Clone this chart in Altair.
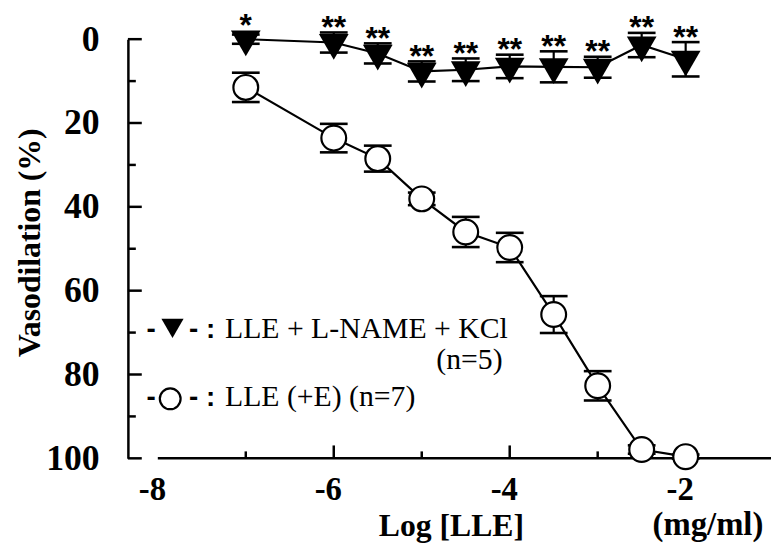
import altair as alt
import pandas as pd
import numpy as np

# ---------------- data ----------------
log_conc = [-7, -6, -5.5, -5, -4.5, -4, -3.5, -3, -2.5, -2]
lname_mean = [0.0, 0.8, 3.4, 7.7, 7.3, 6.5, 6.6, 6.7, 1.4, 4.8]
lname_sem = [1.1, 2.4, 2.4, 2.4, 2.7, 2.8, 3.7, 2.5, 2.9, 4.1]
lle_mean = [11.5, 23.6, 28.5, 38.1, 46.0, 49.7, 65.7, 82.7, 97.9, 99.6]
lle_sem = [3.5, 3.4, 3.1, 1.5, 3.6, 3.5, 4.4, 3.5, 1.0, 0.5]
stars = ["*", "**", "**", "**", "**", "**", "**", "**", "**", "**"]

x_labels = [-8, -6, -4, -2]
x_minor = [-7, -5, -3]
x_major_ticks = [-6, -4, -2]
y_major = [0, 20, 40, 60, 80, 100]
y_minor = [10, 30, 50, 70, 90]

legend_lname = "LLE + L-NAME + KCl"
legend_lname_n = "(n=5)"
legend_lle = "LLE (+E) (n=7)"
unit_label = "(mg/ml)"

# ---------------- layout ----------------
X_MIN, X_MAX = -8.34, -1.03
W, H = 649, 423
SERIF = "Liberation Serif"
SANS = "Liberation Sans"
TRI = "M -1 -0.577 L 1 -0.577 L 0 1.155 Z"   # down triangle, centroid at origin
TRI_TOP = 2.06  # triangle top above its centre, in y units

df_lname = pd.DataFrame({"x": log_conc, "mean": lname_mean, "sem": lname_sem, "star": stars})
df_lname["lo"] = df_lname["mean"] - df_lname["sem"]
df_lname["hi"] = df_lname["mean"] + df_lname["sem"]
df_lname["star_y"] = np.minimum(df_lname["lo"], df_lname["mean"] - TRI_TOP)

df_lle = pd.DataFrame({"x": log_conc, "mean": lle_mean, "sem": lle_sem})
df_lle["lo"] = df_lle["mean"] - df_lle["sem"]
df_lle["hi"] = df_lle["mean"] + df_lle["sem"]

xs = alt.Scale(domain=[X_MIN, X_MAX], nice=False, zero=False)
ys = alt.Scale(domain=[0, 100], nice=False, zero=False, reverse=True)

xaxis = alt.Axis(values=x_labels, labelExpr="'' + datum.value", ticks=False, domain=False,
                 grid=False, labelFont=SERIF, labelFontSize=33, labelFontWeight="bold",
                 labelColor="black", labelPadding=16, labelOffset=-6, labelFlush=False,
                 labelOverlap=False,
                 title="Log [LLE]", titleFont=SERIF, titleFontSize=32, titleFontWeight="bold",
                 titleColor="black", titleX=326, titleY=78, titleAlign="center",
                 titleBaseline="alphabetic")
yaxis = alt.Axis(values=y_major, format="d", ticks=False, domain=True, domainColor="black",
                 domainWidth=2.5, grid=False, labelFont=SERIF, labelFontSize=36,
                 labelFontWeight="bold", labelColor="black", labelPadding=29,
                 labelOverlap=False, labelFlush=False,
                 title="Vasodilation (%)", titleFont=SERIF, titleFontSize=32,
                 titleFontWeight="bold", titleColor="black", titleX=-89, titleY=205,
                 titleAlign="center", titleBaseline="alphabetic", titleAngle=270)


def X(f="x:Q"):
    return alt.X(f, scale=xs, axis=xaxis, title="Log [LLE]")


def Y(f):
    return alt.Y(f, scale=ys, axis=yaxis, title="Vasodilation (%)")


def XD(v):
    return alt.X(datum=v, scale=xs, axis=xaxis, title="Log [LLE]")


def YD(v):
    return alt.Y(datum=v, scale=ys, axis=yaxis, title="Vasodilation (%)")


# lines
line_lle = alt.Chart(df_lle).mark_line(color="black", strokeWidth=2.2).encode(
    x=X(), y=Y("mean:Q"))
line_lname = alt.Chart(df_lname).mark_line(color="black", strokeWidth=2.2).encode(
    x=X(), y=Y("mean:Q"))

# axes decorations
df_xline = pd.DataFrame({"x": [x_labels[0]], "x2": [X_MAX]})
x_line = alt.Chart(df_xline).mark_rule(color="black", strokeWidth=2.5).encode(
    x=X(), x2="x2:Q", y=YD(100))
x_ticks_major = alt.Chart(pd.DataFrame({"x": x_major_ticks})).mark_tick(
    orient="vertical", size=13, thickness=2.5, color="black", yOffset=-6.5, opacity=1).encode(
    x=X(), y=YD(100))
x_ticks_minor = alt.Chart(pd.DataFrame({"x": x_minor})).mark_tick(
    orient="vertical", size=7, thickness=2.5, color="black", yOffset=-3.5, opacity=1).encode(
    x=X(), y=YD(100))
y_ticks_major = alt.Chart(pd.DataFrame({"y": y_major})).mark_tick(
    orient="horizontal", size=14, thickness=2.5, color="black", xOffset=7, opacity=1).encode(
    x=XD(X_MIN), y=Y("y:Q"))
y_ticks_minor = alt.Chart(pd.DataFrame({"y": y_minor})).mark_tick(
    orient="horizontal", size=8, thickness=2.5, color="black", xOffset=4, opacity=1).encode(
    x=XD(X_MIN), y=Y("y:Q"))


def errorbars(df):
    stem = alt.Chart(df).mark_rule(color="black", strokeWidth=2.2).encode(
        x=X(), y=Y("lo:Q"), y2="hi:Q")
    cap_lo = alt.Chart(df).mark_tick(orient="horizontal", size=28, thickness=2.6,
                                     color="black", opacity=1).encode(x=X(), y=Y("lo:Q"))
    cap_hi = alt.Chart(df).mark_tick(orient="horizontal", size=28, thickness=2.6,
                                     color="black", opacity=1).encode(x=X(), y=Y("hi:Q"))
    return [stem, cap_lo, cap_hi]


pts_lname = alt.Chart(df_lname).mark_point(shape=TRI, size=900, filled=True, color="black",
                                           opacity=1).encode(x=X(), y=Y("mean:Q"))
pts_lle = alt.Chart(df_lle).mark_point(shape="circle", size=625, fill="white", stroke="black",
                                       strokeWidth=2.2, opacity=1, fillOpacity=1).encode(
    x=X(), y=Y("mean:Q"))
star_text = alt.Chart(df_lname).mark_text(font=SANS, fontSize=32, fontWeight="bold",
                                          baseline="alphabetic", align="center", dy=5.5,
                                          color="black").encode(
    x=X(), y=Y("star_y:Q"), text="star:N")

# legend (annotation positions in data units)
df_dash = pd.DataFrame({"x": [-8.075, -8.075], "y": [71.2, 87.5], "t": ["-", "-"]})
df_colon = pd.DataFrame({"x": [-7.645, -7.645], "y": [71.2, 87.5], "t": ["- :", "- :"]})
df_leg = pd.DataFrame({"x": [-7.236, -4.835, -7.236], "y": [71.2, 78.7, 87.5],
                       "t": [legend_lname, legend_lname_n, legend_lle]})
leg_dash = alt.Chart(df_dash).mark_text(font=SANS, fontSize=28, fontWeight="bold",
                                        align="center", baseline="alphabetic",
                                        color="black").encode(x=X(), y=Y("y:Q"), text="t:N")
leg_colon = alt.Chart(df_colon).mark_text(font=SANS, fontSize=28, fontWeight="bold",
                                          align="left", baseline="alphabetic",
                                          color="black").encode(x=X(), y=Y("y:Q"), text="t:N")
leg_text = alt.Chart(df_leg).mark_text(font=SERIF, fontSize=30, align="left",
                                       baseline="alphabetic", color="black").encode(
    x=X(), y=Y("y:Q"), text="t:N")
leg_tri = alt.Chart(pd.DataFrame({"x": [-7.833], "y": [69.0]})).mark_point(
    shape="triangle-down", size=500, filled=True, color="black", opacity=1).encode(
    x=X(), y=Y("y:Q"))
leg_circ = alt.Chart(pd.DataFrame({"x": [-7.859], "y": [85.8]})).mark_point(
    shape="circle", size=441, fill="white", stroke="black", strokeWidth=2.2, opacity=1,
    fillOpacity=1).encode(x=X(), y=Y("y:Q"))
unit = alt.Chart(pd.DataFrame({"x": [-1.117], "y": [118.4], "t": [unit_label]})).mark_text(
    font=SERIF, fontSize=33, fontWeight="bold", align="right", baseline="alphabetic",
    color="black").encode(x=X(), y=Y("y:Q"), text="t:N")

layers = [line_lle, x_line, x_ticks_major, x_ticks_minor, y_ticks_major, y_ticks_minor,
          line_lname] + errorbars(df_lle) + errorbars(df_lname) + [
          pts_lle, pts_lname, star_text, leg_dash, leg_colon, leg_text, leg_tri, leg_circ, unit]

chart = alt.layer(*layers).properties(
    width=W, height=H,
    autosize=alt.AutoSizeParams(type="none"),
    padding={"left": 121, "top": 29, "right": 0, "bottom": 84},
    background="white",
).configure_view(strokeWidth=0)

chart.save("out.html", embed_options={"renderer": "svg", "actions": False})
